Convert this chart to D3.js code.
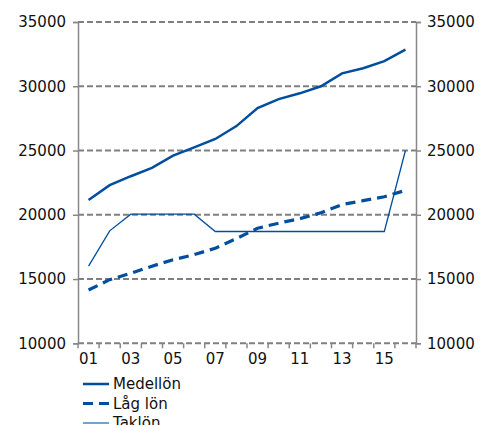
<!DOCTYPE html>
<html><head><meta charset="utf-8">
<script src="https://cdn.jsdelivr.net/npm/d3@7/dist/d3.min.js"></script>
<style>body{margin:0;background:#fff}svg{display:block}text{font-family:"DejaVu Sans",Verdana,sans-serif}</style>
</head><body><svg id="c" width="489" height="425"></svg>
<script>
const years = ["01","02","03","04","05","06","07","08","09","10","11","12","13","14","15","16"];
const medellon = [21150,22300,23000,23650,24600,25250,25900,26900,28300,29000,29450,30000,31000,31400,31950,32850];
const lagLon = [14150,14950,15450,16000,16500,16900,17400,18150,18950,19350,19700,20150,20800,21100,21400,21900];
const taklon = [16000,18750,20050,20050,20050,20050,18700,18700,18700,18700,18700,18700,18700,18700,18700,25000];
const yTicks = [10000,15000,20000,25000,30000,35000];
const xLabelYears = ["01","03","05","07","09","11","13","15"];
const seriesNames = ["Medellön","Låg lön","Taklön"];

const svg = d3.select("#c");
const L = 78, R = 416, T = 22, B = 343.3;
const x = d3.scaleBand().domain(years).range([L, R]);
const y = d3.scaleLinear().domain([10000, 35000]).range([B, T]);
const blue = "#004f9f";
const grey = "#888";
const FS = 15;
const fmt = d3.format("d");

// gridlines
svg.append("g").selectAll("line").data(yTicks).join("line")
  .attr("x1", L).attr("x2", R).attr("y1", d => y(d)).attr("y2", d => y(d))
  .attr("stroke", "#808080").attr("stroke-width", 2).attr("stroke-dasharray", "6,3");

// left axis
const la = svg.append("g").attr("transform", `translate(${L},0)`)
  .call(d3.axisLeft(y).tickValues(yTicks).tickFormat(fmt).tickSize(5).tickPadding(7));
la.select(".domain").attr("stroke", grey).attr("stroke-width", 1.5);
la.selectAll(".tick line").attr("stroke", grey).attr("stroke-width", 1.5);
la.selectAll("text").attr("font-size", FS).attr("fill", "#111").style("font-family", '"DejaVu Sans",Verdana,sans-serif');

const ra = svg.append("g").attr("transform", `translate(${R},0)`)
  .call(d3.axisRight(y).tickValues(yTicks).tickFormat(fmt).tickSize(5).tickPadding(6));
ra.select(".domain").attr("stroke", grey).attr("stroke-width", 1.5);
ra.selectAll(".tick line").attr("stroke", grey).attr("stroke-width", 1.5);
ra.selectAll("text").attr("font-size", FS).attr("fill", "#111").style("font-family", '"DejaVu Sans",Verdana,sans-serif');

// x axis ticks at band boundaries
const bounds = years.map(d => x(d)).concat([R]);
svg.append("g").selectAll("line").data(bounds).join("line")
  .attr("x1", d => d).attr("x2", d => d).attr("y1", B).attr("y2", B + 5)
  .attr("stroke", grey).attr("stroke-width", 1.5);
svg.append("g").selectAll("text").data(xLabelYears).join("text")
  .attr("x", d => x(d) + x.bandwidth()/2).attr("y", B + 21)
  .attr("text-anchor", "middle").attr("font-size", FS).attr("fill", "#111").text(d => d);

const line = d3.line().x((d, i) => x(years[i]) + x.bandwidth()/2).y(d => y(d));
svg.append("path").datum(taklon).attr("d", line).attr("fill", "none").attr("stroke", blue).attr("stroke-width", 1.3);
svg.append("path").datum(lagLon).attr("d", line).attr("fill", "none").attr("stroke", blue).attr("stroke-width", 3.2).attr("stroke-dasharray", "10,6");
svg.append("path").datum(medellon).attr("d", line).attr("fill", "none").attr("stroke", blue).attr("stroke-width", 2.5);

// legend
const styles = [{w:2.5, dash:null},{w:3.2, dash:"10,6"},{w:1.3, dash:null}];
const lg = svg.append("g");
seriesNames.forEach((n, i) => {
  const yy = 384 + i * 19.5;
  lg.append("line").attr("x1", 83).attr("x2", 109).attr("y1", yy).attr("y2", yy)
    .attr("stroke", i === 2 ? "#2f6db0" : blue).attr("stroke-width", styles[i].w).attr("stroke-dasharray", styles[i].dash);
  lg.append("text").attr("x", 113).attr("y", yy + 5).attr("font-size", FS).attr("fill", "#111").text(n);
});
</script></body></html>
